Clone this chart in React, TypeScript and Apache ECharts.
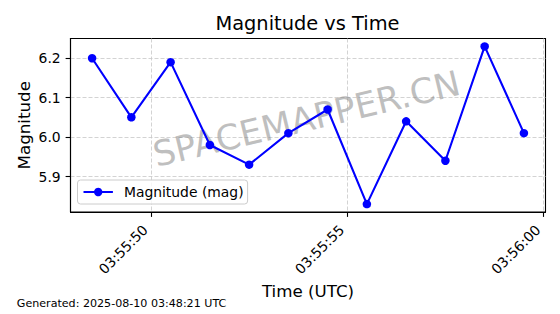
import React, { useEffect, useRef } from "react";
import * as echarts from "echarts";

const TITLE = "Magnitude vs Time";
const SERIES_NAME = "Magnitude (mag)";
const X_NAME = "Time (UTC)";
const Y_NAME = "Magnitude";
const FOOTER = "Generated: 2025-08-10 03:48:21 UTC";
const WATERMARK = "SPACEMAPPER.CN";

const times = [
  "03:55:48.5",
  "03:55:49.5",
  "03:55:50.5",
  "03:55:51.5",
  "03:55:52.5",
  "03:55:53.5",
  "03:55:54.5",
  "03:55:55.5",
  "03:55:56.5",
  "03:55:57.5",
  "03:55:58.5",
  "03:55:59.5",
];
const magnitudes = [6.2, 6.05, 6.19, 5.98, 5.93, 6.01, 6.07, 5.83, 6.04, 5.94, 6.23, 6.01];

const xTickTimes = ["03:55:50", "03:55:55", "03:56:00"];
const xRange = ["03:55:47.95", "03:56:00.05"];
const yTicks = [5.9, 6.0, 6.1, 6.2];
const yRange = [5.81, 6.25];

const toSec = (t: string) => {
  const [h, m, s] = t.split(":");
  return Number(h) * 3600 + Number(m) * 60 + parseFloat(s);
};
const pad = (n: number) => String(n).padStart(2, "0");
const fmtTime = (v: number) => {
  const r = Math.round(v);
  const h = Math.floor(r / 3600);
  const m = Math.floor((r % 3600) / 60);
  const s = r % 60;
  return `${pad(h)}:${pad(m)}:${pad(s)}`;
};

const FONT = "DejaVu Sans";

export default function App() {
  const ref = useRef<HTMLDivElement>(null);
  useEffect(() => {
    const chart = echarts.init(ref.current!, null, { renderer: "svg" });
    const xTicks = xTickTimes.map(toSec);
    const gridLine = { show: true, lineStyle: { color: "#c8c8c8", type: [4, 2], width: 0.8 } };
    const tickStyle = { color: "#000", width: 1.1 };
    chart.setOption({
      animation: false,
      backgroundColor: "#ffffff",
      textStyle: { fontFamily: FONT },
      title: {
        text: TITLE,
        left: 307.5,
        top: 13.8,
        padding: 0,
        textAlign: "center",
        textStyle: { fontFamily: FONT, fontSize: 19.4, fontWeight: "normal", color: "#000" },
      },
      grid: {
        left: 70.5,
        right: 14.5,
        top: 38.5,
        bottom: 102,
        show: true,
        borderColor: "#000",
        borderWidth: 1.1,
        backgroundColor: "transparent",
        containLabel: false,
        outerBoundsMode: "none",
      },
      legend: {
        data: [SERIES_NAME],
        left: 77.5,
        top: 180,
        orient: "vertical",
        padding: [5, 4, 5, 5],
        itemWidth: 29.4,
        itemHeight: 10.6,
        backgroundColor: "rgba(255,255,255,0.8)",
        borderColor: "#cccccc",
        borderWidth: 1,
        borderRadius: 3,
        selectedMode: false,
        textStyle: { fontFamily: FONT, fontSize: 13.9, color: "#000", padding: [0, 0, 0, 6] },
      },
      xAxis: {
        type: "value",
        min: toSec(xRange[0]),
        max: toSec(xRange[1]),
        name: X_NAME,
        nameLocation: "middle",
        nameGap: 70,
        nameMoveOverlap: false,
        nameTextStyle: { fontFamily: FONT, fontSize: 16.7, color: "#000" },
        axisLine: { show: true, onZero: false, lineStyle: tickStyle },
        axisTick: { show: true, length: 4.9, lineStyle: tickStyle, customValues: xTicks },
        axisLabel: {
          customValues: xTicks,
          rotate: 45,
          margin: 9.7,
          padding: [0, 8, 0, 0],
          formatter: (v: number) => fmtTime(v),
          color: "#000",
          fontSize: 13.9,
          fontFamily: FONT,
        },
        splitLine: gridLine,
      },
      yAxis: {
        type: "value",
        min: yRange[0],
        max: yRange[1],
        name: Y_NAME,
        nameLocation: "middle",
        nameGap: 38,
        nameMoveOverlap: false,
        nameTextStyle: { fontFamily: FONT, fontSize: 16.7, color: "#000" },
        axisLine: { show: true, onZero: false, lineStyle: tickStyle },
        axisTick: { show: true, length: 4.9, lineStyle: tickStyle, customValues: yTicks },
        axisLabel: {
          customValues: yTicks,
          margin: 9.8,
          formatter: (v: number) => v.toFixed(1),
          color: "#000",
          fontSize: 13.9,
          fontFamily: FONT,
        },
        splitLine: gridLine,
      },
      series: [
        {
          type: "line",
          name: SERIES_NAME,
          data: times.map((t, i) => [toSec(t), magnitudes[i]]),
          symbol: "circle",
          symbolSize: 8.5,
          showSymbol: true,
          lineStyle: { color: "#0000ff", width: 2.1 },
          itemStyle: { color: "#0000ff" },
          z: 3,
        },
      ],
      graphic: [
        {
          type: "text",
          x: 306.5,
          y: 119,
          rotation: (13.4 * Math.PI) / 180,
          z: 1,
          silent: true,
          style: {
            text: WATERMARK,
            fill: "#808080",
            opacity: 0.5,
            fontSize: 35,
            fontFamily: FONT,
            align: "center",
            verticalAlign: "middle",
            textAlign: "center",
            textVerticalAlign: "middle",
          },
        },
        {
          type: "text",
          x: 16.8,
          y: 303.9,
          silent: true,
          style: {
            text: FOOTER,
            fill: "#000",
            fontSize: 11.1,
            fontFamily: FONT,
            align: "left",
            verticalAlign: "middle",
            textAlign: "left",
            textVerticalAlign: "middle",
          },
        },
      ],
    });
    return () => chart.dispose();
  }, []);
  return (
    <div
      ref={ref}
      style={{ position: "fixed", left: 0, top: 0, width: 560, height: 314 }}
    />
  );
}
